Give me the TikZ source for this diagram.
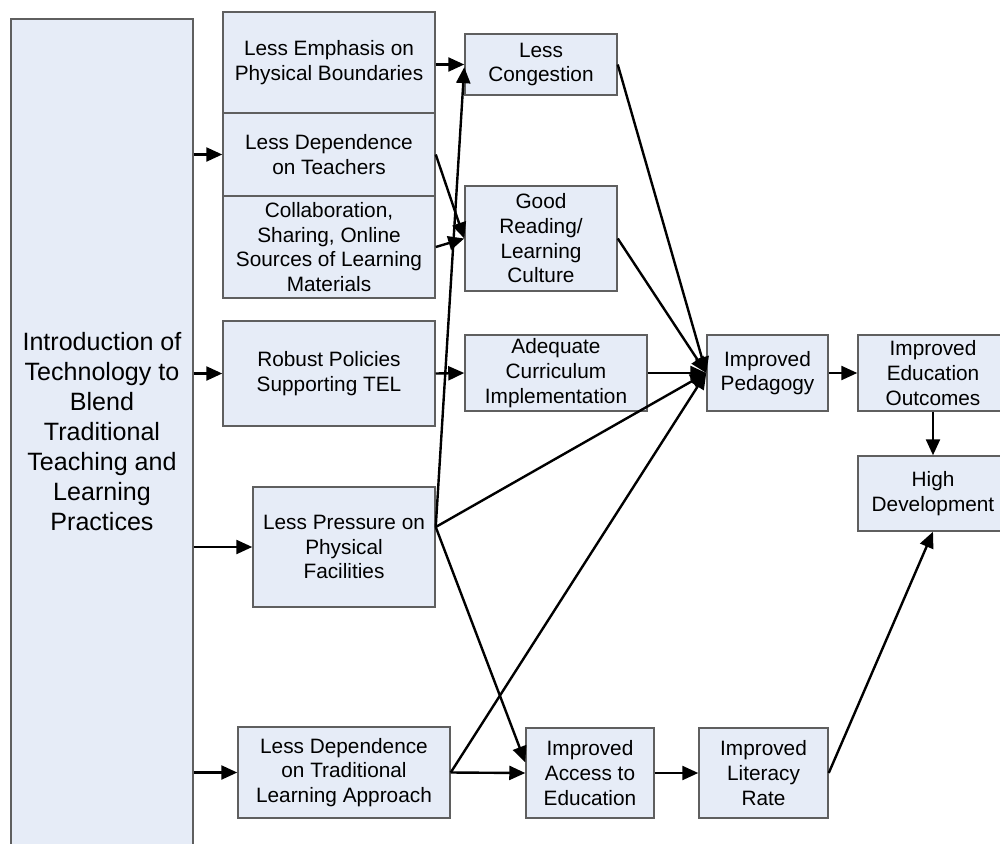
\documentclass[tikz,border=0pt]{standalone}
\usepackage{fontspec}
\setmainfont{Liberation Sans}
\usetikzlibrary{arrows.meta,calc}
\definecolor{boxfill}{RGB}{230,236,247}
\definecolor{boxline}{RGB}{95,95,95}
\begin{document}
\begin{tikzpicture}[x=0.75pt,y=-0.75pt,
  box/.style={draw=boxline, line width=1.1pt, fill=boxfill, inner sep=0pt,
    align=center, font=\fontsize{15.6}{18.5}\selectfont},
  bigbox/.style={box, font=\fontsize{18.8}{22.5}\selectfont},
  sz/.style 2 args={minimum width=#1pt, minimum height=#2pt},
  arr/.style={-{Triangle[length=12pt,width=10.5pt]}, line width=1.8pt, black}]
\useasboundingbox (0,0) rectangle (1000,843);
\clip (0,0) rectangle (1000,843);

% boxes (centres in px, sizes in pt)
\node[bigbox, sz={136.5}{619.5}] (intro) at (102,432)
  {Introduction of\\Technology to\\Blend\\Traditional\\Teaching and\\Learning\\Practices};
\node[box, sz={159}{75.75}] (le) at (329,62.5) {Less Emphasis on\\Physical Boundaries};
\node[box, sz={159}{62.25}] (ldt) at (329,154.5) {Less Dependence\\on Teachers};
\node[box, sz={159}{76.5}] (col) at (329,247)
  {Collaboration,\\Sharing, Online\\Sources of Learning\\Materials};
\node[box, sz={114}{45.75}] (lc) at (541,64.5) {Less\\Congestion};
\node[box, sz={114}{78.75}] (gr) at (541,238.5) {Good\\Reading/\\Learning\\Culture};
\node[box, sz={159}{78.75}] (rp) at (329,373.5) {Robust Policies\\Supporting TEL};
\node[box, sz={136.5}{57}] (ac) at (556,373) {Adequate\\Curriculum\\Implementation};
\node[box, sz={90.75}{57}] (ip) at (767.5,373) {Improved\\Pedagogy};
\node[box, sz={112.5}{57}] (eo) at (933,373) {Improved\\Education\\Outcomes};
\node[box, sz={112.5}{56.25}] (hd) at (933,493.5) {High\\Development};
\node[box, sz={136.5}{90}] (lp) at (344,547) {Less Pressure on\\Physical\\Facilities};
\node[box, sz={159}{68.25}] (ldtr) at (344,772.5)
  {Less Dependence\\on Traditional\\Learning Approach};
\node[box, sz={96}{67.5}] (ia) at (590,773) {Improved\\Access to\\Education};
\node[box, sz={96.75}{67.5}] (lr) at (763.5,773) {Improved\\Literacy\\Rate};

% connectors
\coordinate (lpo) at ([yshift=15pt]lp.east);
\draw[arr] (intro.east |- ldt.west) -- (ldt.west);
\draw[arr] (intro.east |- rp.west) -- (rp.west);
\draw[arr] (intro.east |- lp.west) -- (lp.west);
\draw[arr] (intro.east |- ldtr.west) -- (ldtr.west);
\draw[arr] (le.east |- lc.west) -- (lc.west);
\draw[arr] (lpo) -- ([yshift=-2pt]lc.west);
\draw[arr] (ldt.east) -- (gr.west);
\draw[arr] (col.east) -- (gr.west);
\draw[arr] (rp.east) -- (ac.west);
\draw[arr] (lc.east) -- (ip.west);
\draw[arr] (gr.east) -- (ip.west);
\draw[arr] (ac.east) -- (ip.west);
\draw[arr] (lpo) -- (ip.west);
\draw[arr] (ldtr.east) -- (ip.west);
\draw[arr] (lpo) -- ([yshift=8pt]ia.west);
\draw[arr] (ldtr.east) -- (ia.west);
\draw[arr] (ia.east) -- (lr.west);
\draw[arr] (lr.east) -- (hd.south);
\draw[arr] (ip.east) -- (eo.west);
\draw[arr] (eo.south) -- (hd.north);
\end{tikzpicture}
\end{document}
